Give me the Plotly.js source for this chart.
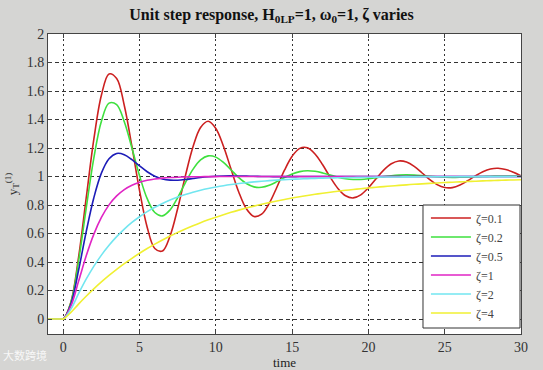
<!DOCTYPE html>
<html>
<head>
<meta charset="utf-8">
<script src="https://cdn.plot.ly/plotly-3.0.1.min.js"></script>
<style>
html,body{margin:0;padding:0;background:#d5d5d3;}
#chart{width:543px;height:370px;}
</style>
</head>
<body>
<div id="chart"></div>
<script>
// time samples
const time = [-1, -0.1, 0, 0.5, 1, 1.5, 2, 2.5, 3, 3.5, 4, 4.5, 5, 5.5, 6, 6.5, 7, 7.5, 8, 8.5, 9, 9.5,
  10, 10.5, 11, 11.5, 12, 12.5, 13, 13.5, 14, 14.5, 15, 15.5, 16, 16.5, 17, 17.5, 18, 18.5, 19, 19.5,
  20, 20.5, 21, 21.5, 22, 22.5, 23, 23.5, 24, 24.5, 25, 25.5, 26, 26.5, 27, 27.5, 28, 28.5, 29, 29.5, 30];

const seriesNames = ["ζ=0.1", "ζ=0.2", "ζ=0.5", "ζ=1", "ζ=2", "ζ=4"];

const zeta01 = [0, 0, 0, 0.1185, 0.4310, 0.8464, 1.2581, 1.5705, 1.7202, 1.6878, 1.4983, 1.2108, 0.9016, 0.6445,
  0.4952, 0.4772, 0.5830, 0.7758, 1.0026, 1.2072, 1.3440, 1.3877, 1.3369, 1.2124, 1.0503, 0.8919, 0.7738,
  0.7196, 0.7359, 0.8122, 0.9250, 1.0445, 1.1423, 1.1976, 1.2016, 1.1583, 1.0822, 0.9942, 0.9159, 0.8647,
  0.8498, 0.8714, 0.9209, 0.9841, 1.0450, 1.0896, 1.1091, 1.1013, 1.0707, 1.0265, 0.9803, 0.9431, 0.9227,
  0.9223, 0.9400, 0.9700, 1.0041, 1.0340, 1.0532, 1.0581, 1.0490, 1.0294, 1.0048];

const zeta02 = [0, 0, 0, 0.1147, 0.4050, 0.7748, 1.1275, 1.3880, 1.5151, 1.5049, 1.3845, 1.2005, 1.0055, 0.8446,
  0.7473, 0.7237, 0.7657, 0.8521, 0.9556, 1.0503, 1.1166, 1.1450, 1.1361, 1.0986, 1.0460, 0.9928, 0.9508,
  0.9273, 0.9242, 0.9385, 0.9639, 0.9926, 1.0178, 1.0345, 1.0405, 1.0364, 1.0250, 1.0101, 0.9957, 0.9848,
  0.9793, 0.9794, 0.9840, 0.9914, 0.9993, 1.0059, 1.0101, 1.0112, 1.0097, 1.0062, 1.0021, 0.9982, 0.9954,
  0.9942, 0.9944, 0.9959, 0.9980, 1.0002, 1.0019, 1.0029, 1.0031, 1.0025, 1.0015];

const zeta05 = [0, 0, 0, 0.1044, 0.3403, 0.6105, 0.8494, 1.0234, 1.1244, 1.1617, 1.1531, 1.1184, 1.0746, 1.0336,
  1.0023, 0.9828, 0.9744, 0.9742, 0.9790, 0.9860, 0.9929, 0.9985, 1.0022, 1.0040, 1.0043, 1.0037, 1.0026,
  1.0014, 1.0004, 0.9998, 0.9994, 0.9993, 0.9994, 0.9996, 0.9998, 1.0, 1.0, 1.0, 1.0, 1.0,
  1.0, 1.0, 1.0, 1.0, 1.0, 1.0, 1.0, 1.0, 1.0, 1.0, 1.0, 1.0, 1.0,
  1.0, 1.0, 1.0, 1.0, 1.0, 1.0, 1.0, 1.0, 1.0, 1.0];

const zeta1 = [0, 0, 0, 0.0902, 0.2642, 0.4422, 0.5940, 0.7127, 0.8009, 0.8641, 0.9084, 0.9389, 0.9596, 0.9734,
  0.9826, 0.9887, 0.9927, 0.9953, 0.9970, 0.9981, 0.9988, 0.9992, 0.9995, 0.9997, 0.9998, 0.9999, 1.0,
  1.0, 1.0, 1.0, 1.0, 1.0, 1.0, 1.0, 1.0, 1.0, 1.0, 1.0, 1.0, 1.0,
  1.0, 1.0, 1.0, 1.0, 1.0, 1.0, 1.0, 1.0, 1.0, 1.0, 1.0, 1.0, 1.0,
  1.0, 1.0, 1.0, 1.0, 1.0, 1.0, 1.0, 1.0, 1.0, 1.0];

const zeta2 = [0, 0, 0, 0.0697, 0.1777, 0.2795, 0.3696, 0.4486, 0.5178, 0.5782, 0.6311, 0.6774, 0.7178, 0.7532,
  0.7842, 0.8112, 0.8349, 0.8556, 0.8737, 0.8895, 0.9034, 0.9155, 0.9261, 0.9354, 0.9435, 0.9506, 0.9568,
  0.9622, 0.9669, 0.9711, 0.9747, 0.9779, 0.9806, 0.9831, 0.9852, 0.9871, 0.9887, 0.9901, 0.9913, 0.9924,
  0.9934, 0.9942, 0.9949, 0.9956, 0.9961, 0.9966, 0.9970, 0.9974, 0.9977, 0.9980, 0.9983, 0.9985, 0.9987,
  0.9988, 0.9990, 0.9991, 0.9992, 0.9993, 0.9994, 0.9995, 0.9995, 0.9996, 0.9997];

const zeta4 = [0, 0, 0, 0.0465, 0.1048, 0.1599, 0.2116, 0.2601, 0.3057, 0.3484, 0.3885, 0.4261, 0.4614, 0.4946,
  0.5257, 0.5549, 0.5823, 0.6080, 0.6321, 0.6547, 0.6760, 0.6959, 0.7146, 0.7322, 0.7487, 0.7641, 0.7786,
  0.7923, 0.8050, 0.8170, 0.8283, 0.8389, 0.8488, 0.8581, 0.8668, 0.8750, 0.8827, 0.8899, 0.8967, 0.9031,
  0.9090, 0.9146, 0.9199, 0.9248, 0.9294, 0.9338, 0.9378, 0.9417, 0.9453, 0.9486, 0.9518, 0.9548, 0.9575,
  0.9602, 0.9626, 0.9649, 0.9671, 0.9691, 0.9710, 0.9728, 0.9745, 0.9760, 0.9775];

const xTicks = [0, 5, 10, 15, 20, 25, 30];
const yTicks = [0, 0.2, 0.4, 0.6, 0.8, 1, 1.2, 1.4, 1.6, 1.8, 2];
const yTickText = ["0", "0.2", "0.4", "0.6", "0.8", "1", "1.2", "1.4", "1.6", "1.8", "2"];

const seriesValues = [zeta01, zeta02, zeta05, zeta1, zeta2, zeta4];
const colors = ["#cc2020", "#3ee03e", "#1c1cb8", "#e024c4", "#72e6f0", "#f0f032"];

const serif = "Liberation Serif, Times New Roman, serif";

const traces = seriesValues.map((vals, i) => ({
  x: time,
  y: vals,
  name: seriesNames[i],
  type: "scatter",
  mode: "lines",
  line: {color: colors[i], width: 1.6, shape: "spline", smoothing: 1},
  hoverinfo: "skip"
}));

const layout = {
  width: 543,
  height: 370,
  paper_bgcolor: "#d5d5d3",
  plot_bgcolor: "#ffffff",
  margin: {l: 48, r: 22, t: 34, b: 36},
  showlegend: true,
  title: {
    text: "<b>Unit step response, H<sub>0LP</sub>=1, ω<sub>0</sub>=1, ζ varies</b>",
    font: {family: serif, size: 16, color: "#111"},
    x: 0.5, xref: "container", xanchor: "center",
    y: 0.962, yref: "container", yanchor: "middle"
  },
  xaxis: {
    range: [-1, 30],
    tickvals: xTicks,
    ticktext: xTicks.map(String),
    showgrid: true,
    gridcolor: "#333",
    gridwidth: 1,
    griddash: "2px,3px",
    zeroline: false,
    showline: true,
    linecolor: "#444",
    linewidth: 1,
    mirror: "ticks",
    ticks: "inside",
    ticklen: 4,
    tickcolor: "#444",
    tickfont: {family: serif, size: 14, color: "#333"},
    title: {text: "time", font: {family: serif, size: 13, color: "#222"}, standoff: 4}
  },
  yaxis: {
    range: [-0.105, 2],
    tickvals: yTicks,
    ticktext: yTickText,
    showgrid: true,
    gridcolor: "#333",
    gridwidth: 1,
    griddash: "4px,3px",
    zeroline: false,
    showline: true,
    linecolor: "#444",
    linewidth: 1,
    mirror: "ticks",
    ticks: "inside",
    ticklen: 4,
    tickcolor: "#444",
    tickfont: {family: serif, size: 14, color: "#333"},
    title: {text: "y<sub>T</sub><sup>(1)</sup>", font: {family: serif, size: 13, color: "#333"}, standoff: 6}
  },
  legend: {
    x: 0.799, xanchor: "left",
    y: 0.435, yanchor: "top",
    bgcolor: "rgba(0,0,0,0)",
    borderwidth: 0,
    font: {family: serif, size: 12, color: "#444"},
    itemwidth: 40,
    tracegroupgap: 0
  },
  shapes: [{
    type: "rect",
    xref: "paper", yref: "paper",
    x0: 0.7928, x1: 0.9979, y0: 0.02, y1: 0.43,
    fillcolor: "#ffffff",
    line: {color: "#333", width: 1},
    layer: "above"
  }],
  annotations: [{
    text: "大数跨境",
    xref: "paper", yref: "paper",
    x: -0.1, y: -0.07, xanchor: "left", yanchor: "middle",
    showarrow: false,
    font: {family: "Noto Sans CJK SC", size: 11, color: "rgba(255,255,255,0.85)"}
  }]
};

Plotly.newPlot("chart", traces, layout, {displayModeBar: false, staticPlot: true});
</script>
</body>
</html>
